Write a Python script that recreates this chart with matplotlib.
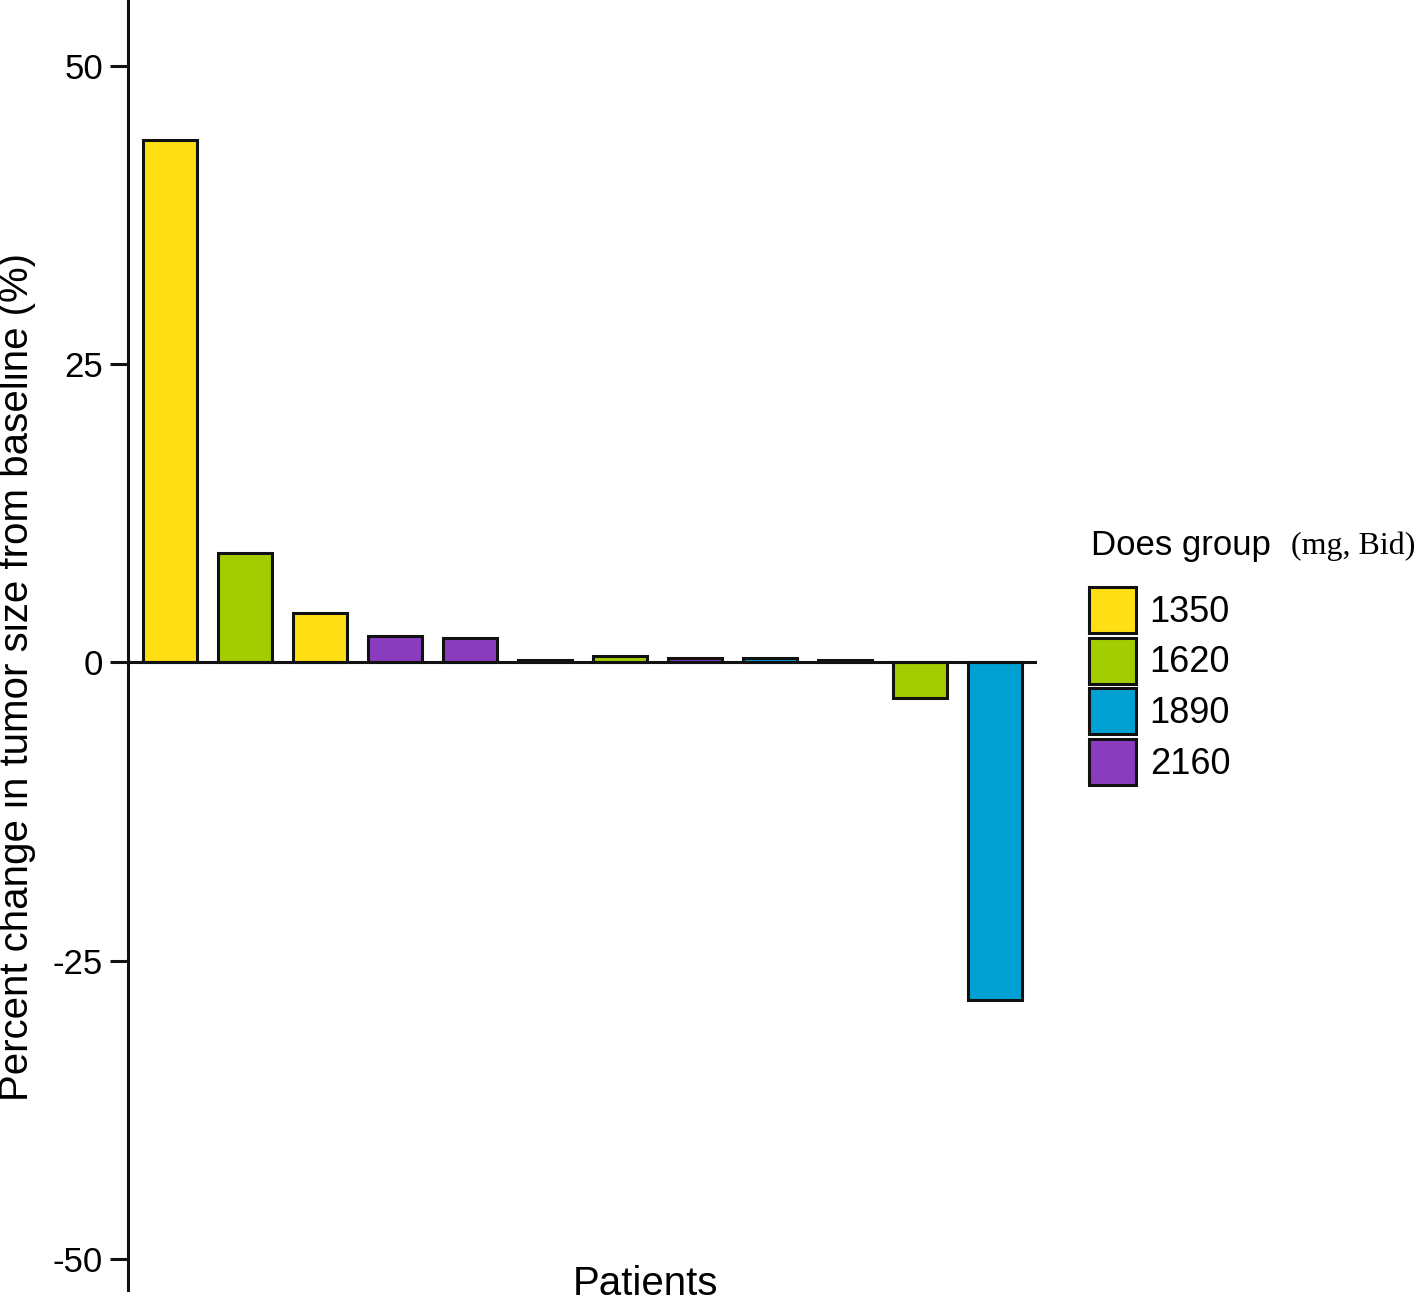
import matplotlib
matplotlib.use("Agg")
import matplotlib.pyplot as plt
from matplotlib.patches import Patch

plt.rcParams['font.family'] = ['Liberation Sans', 'DejaVu Sans']

patients = list(range(12))
changes = [43.8, 9.2, 4.1, 2.2, 2.0, 0.2, 0.5, 0.4, 0.4, 0.2, -3.0, -28.3]
groups = ['1350', '1620', '1350', '2160', '2160', '1350', '1620', '2160', '1890', '1890', '1620', '1890']
group_names = ['1350', '1620', '1890', '2160']
group_colors = {'1350': '#FFDF14', '1620': '#A3CD00', '1890': '#00A0D2', '2160': '#8A3CBE'}
yticks = [-50, -25, 0, 25, 50]

fig = plt.figure(figsize=(14.18, 13.04), dpi=100)
ax = fig.add_axes([128/1418, 14/1304, 909/1418, 1290/1304])

ax.bar(patients, changes, width=0.71,
       color=[group_colors[g] for g in groups],
       edgecolor='#111111', linewidth=2.2, zorder=2)
ax.axhline(0, color='#111111', linewidth=2.2, zorder=3)

ax.set_xlim(-0.56, 11.56)
ax.set_ylim(-52.6, 55.5)
ax.set_yticks(yticks)
ax.set_yticklabels([str(v) for v in yticks])
ax.set_xticks([])
for s in ['top', 'right', 'bottom']:
    ax.spines[s].set_visible(False)
ax.spines['left'].set_linewidth(2.2)
ax.spines['left'].set_color('#111111')
ax.tick_params(axis='y', direction='out', length=13, width=2.2, labelsize=25, pad=5, color='#111111')

ax.set_ylabel('Percent change in tumor size from baseline (%)', fontsize=29)
ax.yaxis.set_label_coords((36 - 128) / 909, 1 - 677 / 1290)
fig.text(645/1418, 1 - 1303/1304, 'Patients', fontsize=29, ha='center', va='bottom')

handles = [Patch(facecolor=group_colors[g], edgecolor='#111111', linewidth=2.2) for g in group_names]
fig.legend(handles, group_names, loc='upper left',
           bbox_to_anchor=(1089/1418, 1 - 587/1304), frameon=False,
           fontsize=26, handlelength=1.3, handleheight=1.58,
           handletextpad=0.38, labelspacing=0.13, borderpad=0, borderaxespad=0)

fig.text(1091/1418, 1 - 546/1304, 'Does group', fontsize=25, ha='left', va='center')
fig.text(1291/1418, 1 - 546/1304, '(mg, Bid)', fontsize=23, ha='left', va='center',
         family=['Liberation Serif', 'DejaVu Serif'])

fig.savefig('out.png', dpi=100)
